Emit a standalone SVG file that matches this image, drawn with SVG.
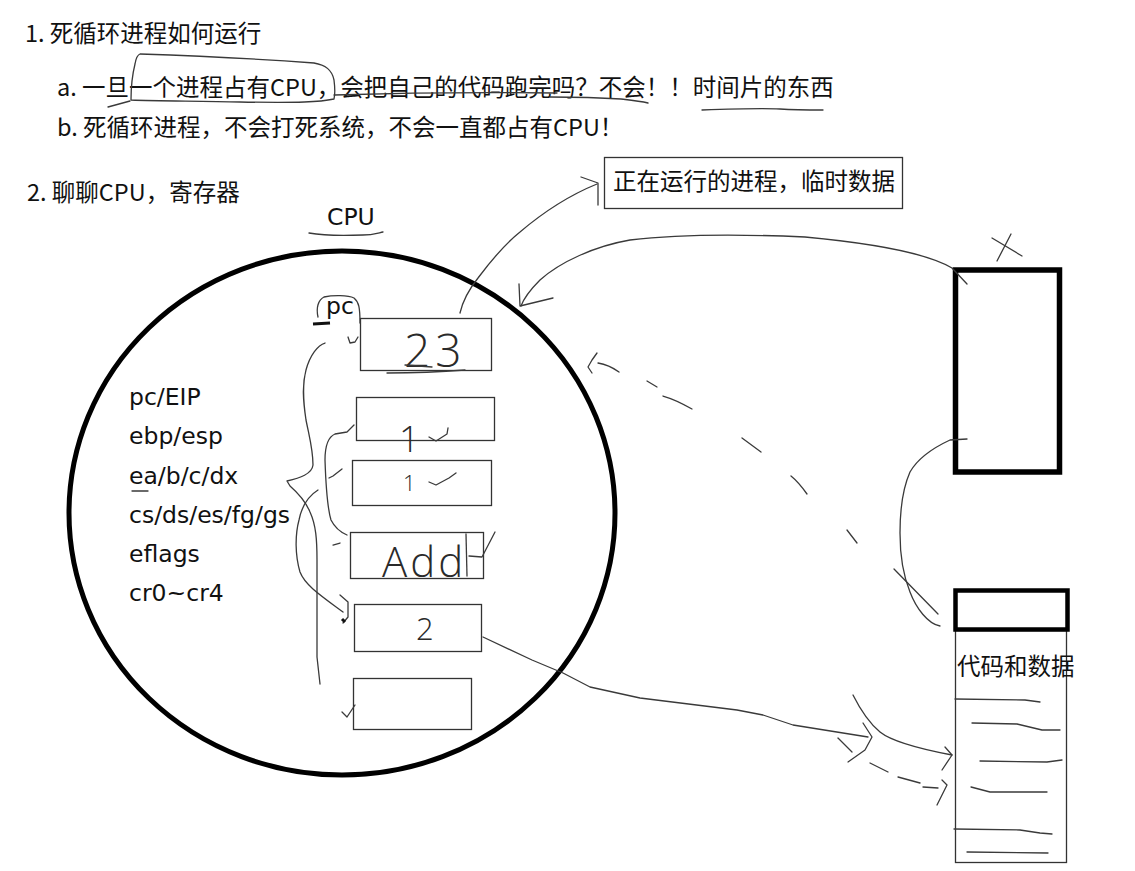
<svg xmlns="http://www.w3.org/2000/svg" width="1135" height="871" viewBox="0 0 1135 871">
<style>
.cjk{font-family:"Noto Sans CJK SC","Noto Sans",sans-serif;font-size:23.5px;fill:#111}
.lat{font-family:"DejaVu Sans","Noto Sans",sans-serif;font-size:23.5px;fill:#111}
.hw{font-family:"Open Sans","Noto Sans",sans-serif;font-weight:300;fill:#2a2a2a}
.ink{fill:none;stroke:#3a3a3a;stroke-width:1.3;stroke-linecap:round;stroke-linejoin:round}
.box{fill:none;stroke:#333;stroke-width:1.3}
.thick{fill:none;stroke:#000;stroke-width:5}
</style>
<rect width="1135" height="871" fill="#fff"/>

<g id="notes">
<text class="cjk" x="25" y="42">1. 死循环进程如何运行</text>
<text class="cjk" x="57" y="96">a. 一旦一个进程占有CPU，会把自己的代码跑完吗？不会！！时间片的东西</text>
<text class="cjk" x="57" y="136">b. 死循环进程，不会打死系统，不会一直都占有CPU！</text>
<text class="cjk" x="27" y="201">2. 聊聊CPU，寄存器</text>
</g>

<g id="label-running">
<rect class="box" x="604.5" y="157.5" width="298" height="51"/>
<text class="cjk" x="613" y="190">正在运行的进程，临时数据</text>
</g>

<g id="cpu">
<text class="lat" x="327" y="225" font-size="22">CPU</text>
<ellipse class="thick" cx="342" cy="513" rx="273" ry="262"/>
<text class="lat" x="129" y="405">pc/EIP</text>
<text class="lat" x="129" y="444">ebp/esp</text>
<text class="lat" x="129" y="484">ea/b/c/dx</text>
<text class="lat" x="129" y="523">cs/ds/es/fg/gs</text>
<text class="lat" x="129" y="562">eflags</text>
<text class="lat" x="129" y="601">cr0~cr4</text>
</g>

<g id="reg-pc">
<rect class="box" x="360.5" y="318.5" width="131" height="52"/>
<text class="lat" x="326" y="314">pc</text>
<text class="hw" x="404" y="367" font-size="46" letter-spacing="5">23</text>
</g>
<g id="reg-2">
<rect class="box" x="356.5" y="397.5" width="138" height="43"/>
<text class="hw" x="399" y="452" font-size="36">1</text>
</g>
<g id="reg-3">
<rect class="box" x="352.5" y="460.5" width="139" height="45"/>
<text class="hw" x="403" y="491" font-size="22">1</text>
</g>
<g id="reg-4">
<rect class="box" x="350.5" y="532.5" width="133" height="46"/>
<text class="hw" x="382" y="577" font-size="42" letter-spacing="3">Add</text>
</g>
<g id="reg-5">
<rect class="box" x="354.5" y="604.5" width="127" height="47"/>
<text class="hw" x="416" y="640" font-size="31">2</text>
</g>
<g id="reg-6">
<rect class="box" x="353.5" y="678.5" width="118" height="51"/>
</g>

<g id="process-a">
<rect x="955.5" y="270" width="104" height="202" fill="none" stroke="#000" stroke-width="5.5"/>
</g>
<g id="process-b">
<rect class="box" x="955.5" y="630.5" width="111" height="232"/>
<rect x="955.5" y="590.5" width="112" height="39" fill="none" stroke="#000" stroke-width="4.5"/>
<text class="cjk" x="957" y="675">代码和数据</text>
</g>

<g id="connectors">
<path class="ink" d="M108,107 L130,101"/>
<path class="ink" d="M131,100 C131,88 132,76 135,64 C136,58 137,55 140,54 C200,56 260,59 314,63 C326,65 332,70 334,80 C335,88 335,95 334,99 C320,102 300,103 240,102 C200,101 160,101 131,100"/>
<path class="ink" d="M334,95 C400,93 470,92 557,93"/>
<path class="ink" d="M550,97 C565,97 590,97 621,99 C630,100 640,101 648,103"/>
<path class="ink" d="M702,110 C730,109 760,108 780,109 C795,110 810,110 823,110"/>
<path class="ink" d="M309,233 C320,235 340,236 363,235 C372,235 378,233 383,232"/>
<path class="ink" d="M318,317 C316,308 318,300 324,297 C333,295 348,295 354,298 C359,302 360,308 360,323"/>
<path d="M313,324 L330,323" stroke="#111" stroke-width="3" fill="none"/>
<path class="ink" d="M348,337 L350,343 L355,342 L358,337"/>
<path class="ink" d="M405,365 L432,367"/>
<path class="ink" d="M387,373 C410,373 440,372 465,370"/>
<path class="ink" d="M460,313 C463,300 470,288 478,278 C490,262 505,244 520,232 C540,215 565,197 597,184"/>
<path class="ink" d="M581,177 L598,183 L598,205"/>
<path class="ink" d="M967,284 L952,268 C930,255 880,244 805,237 C740,234 680,234 630,240 C595,246 560,262 540,280 C530,290 524,298 521,306"/>
<path class="ink" d="M519,284 L520,306 L553,298"/>
<path class="ink" d="M992,238 L1022,256"/>
<path class="ink" d="M1011,234 L997,261"/>
<path class="ink" d="M597,353 L592,360 L588,367 L592,373"/>
<path class="ink" d="M598,363 C604,364 612,367 619,372"/>
<path class="ink" d="M647,381 L657,387"/>
<path class="ink" d="M663,396 C670,398 680,402 692,409"/>
<path class="ink" d="M742,438 L761,452"/>
<path class="ink" d="M791,476 C796,480 802,487 807,494"/>
<path class="ink" d="M847,530 L857,543"/>
<path class="ink" d="M894,569 L938,614"/>
<path class="ink" d="M967,439 L950,440 C935,447 918,458 910,472 C902,490 900,510 900,533 C900,555 903,575 910,592 C916,608 928,624 940,626"/>
<path class="ink" d="M429,437 L436,441 L447,434 L448,428"/>
<path class="ink" d="M429,482 L436,485 L449,478 L456,473"/>
<path class="ink" d="M466,534 L467,576"/>
<path class="ink" d="M469,556 L482,557 L495,532"/>
<path class="ink" d="M342,712 L347,717 L355,705"/>
<path class="ink" d="M325,343 C318,345 310,355 306,370 C302,385 303,400 306,420 C310,440 313,450 313,465 C312,474 300,478 287,481 L290,486 C298,493 305,500 310,512 C316,525 317,540 317,560 L317,657 L320,684"/>
<path class="ink" d="M318,490 C310,495 302,505 299,520 C295,535 295,555 300,572 C305,585 320,595 343,612"/>
<path class="ink" d="M340,595 L348,602 L348,617 L343,623"/>
<path d="M342,619 L345,622" stroke="#111" stroke-width="3"/>
<path class="ink" d="M354,425 L347,432 L335,434 C328,437 325,445 325,460 C326,490 328,510 331,520 C335,528 340,532 347,535"/>
<path class="ink" d="M329,478 L333,476 L342,469"/>
<path class="ink" d="M333,545 L340,543"/>
<path class="ink" d="M483,637 L532,660 L563,673 L590,687 L640,698 L737,710 L763,715 L793,725 L868,737"/>
<path class="ink" d="M863,723 L872,737 L865,750 L848,762"/>
<path class="ink" d="M838,738 L852,752"/>
<path class="ink" d="M853,695 C858,705 868,722 880,732 C890,740 915,748 952,755"/>
<path class="ink" d="M945,747 L952,755 L942,770"/>
<path class="ink" d="M870,763 L888,772"/>
<path class="ink" d="M898,777 L920,783"/>
<path class="ink" d="M923,787 L938,788"/>
<path class="ink" d="M942,780 L947,785 L937,805"/>
<path class="ink" d="M955,699 L1025,700 L1040,702"/>
<path class="ink" d="M972,723 L1017,724 L1042,730 L1060,730"/>
<path class="ink" d="M980,761 L1047,762 L1062,760"/>
<path class="ink" d="M971,787 L990,792 L1047,792"/>
<path class="ink" d="M954,829 L1020,830 L1040,833 L1052,834"/>
<path class="ink" d="M967,852 L1048,853"/>
<path class="ink" d="M132,491 L148,491"/>
</g>
</svg>
